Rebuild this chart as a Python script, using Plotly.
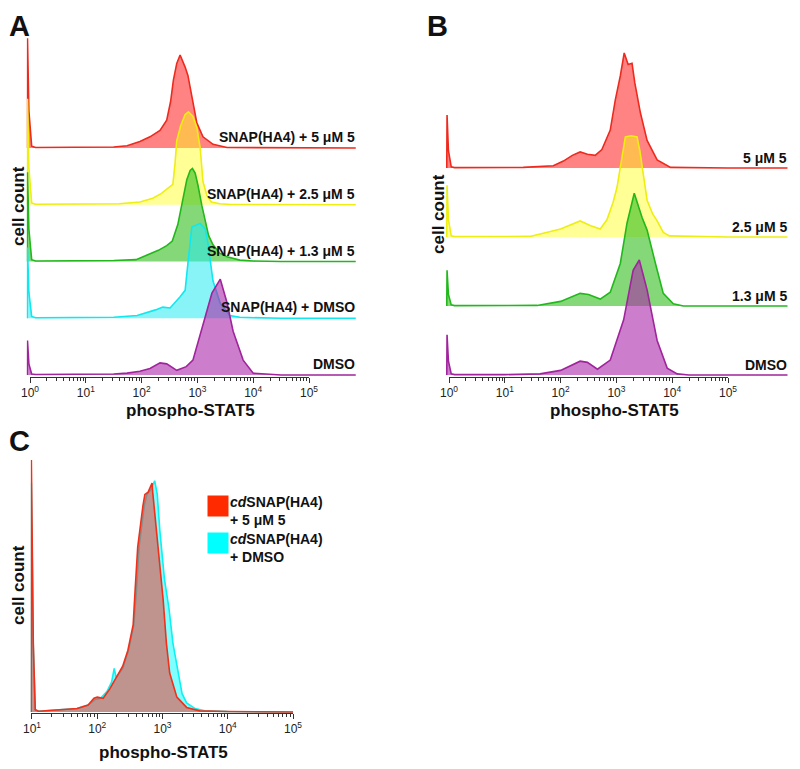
import plotly.graph_objects as go

W, H = 800, 769
SHIFT = 8  # the page body adds 8 px around the figure
FONT = "Liberation Sans, Arial, sans-serif"

# ---------------- data (log10 phospho-STAT5 position, % of peak height) ----------------
# Panel A
A_NAMES = ["SNAP(HA4) + 5 μM 5", "SNAP(HA4) + 2.5 μM 5", "SNAP(HA4) + 1.3 μM 5",
           "SNAP(HA4) + DMSO", "DMSO"]
A_RED_LOG = [-0.05, -0.045, -0.02, 0.03, 0.1, 1.0, 1.5, 1.74, 1.97, 2.15, 2.33, 2.45, 2.52,
             2.57, 2.63, 2.69, 2.73, 2.78, 2.83, 2.90, 2.99, 3.10, 3.28, 3.53, 4.5, 5.84]
A_RED_VAL = [0, 118, 40, 2, 0.5, 0.5, 1, 2.5, 7, 12, 19, 30, 50, 73, 91, 100, 95, 87, 78,
             55, 27, 12, 4, 0.5, 0, 0]
A_YEL_LOG = [-0.05, -0.045, -0.02, 0.03, 0.1, 1.0, 1.6, 1.97, 2.2, 2.35, 2.45, 2.5, 2.56,
             2.6, 2.63, 2.7, 2.78, 2.84, 2.92, 2.99, 3.05, 3.10, 3.17, 3.25, 3.4, 3.6, 4.5, 5.84]
A_YEL_VAL = [0, 114, 40, 2, 0.5, 0.5, 1, 3, 7, 12, 17, 20, 22, 45, 69, 85, 97, 100, 95, 83,
             61, 25, 10, 3, 1, 0.3, 0, 0]
A_GRN_LOG = [-0.05, -0.045, -0.02, 0.03, 0.1, 1.0, 1.5, 1.9, 2.15, 2.3, 2.45, 2.55, 2.65,
             2.74, 2.81, 2.87, 2.91, 2.96, 3.01, 3.08, 3.14, 3.2, 3.28, 3.4, 3.53, 3.76, 4.0,
             4.5, 5.84]
A_GRN_VAL = [0, 96, 35, 2, 0.5, 0.5, 1, 2, 8, 12, 17, 22, 40, 69, 88, 98, 100, 95, 82, 60,
             42, 28, 18, 9, 5, 1.5, 0.5, 0, 0]
A_CYN_LOG = [-0.05, -0.045, -0.02, 0.03, 0.1, 1.0, 1.5, 1.92, 2.09, 2.25, 2.38, 2.51, 2.69,
             2.78, 2.83, 2.90, 3.05, 3.14, 3.19, 3.28, 3.41, 3.58, 3.76, 4.5, 5.84]
A_CYN_VAL = [0, 76, 28, 2, 0.5, 0.5, 1, 3, 6, 9, 12, 11, 23, 30, 59, 98, 102, 96, 80, 40,
             16, 3, 1, 0, 0]
A_PUR_LOG = [-0.05, -0.045, -0.02, 0.03, 0.1, 1.0, 1.5, 1.74, 1.97, 2.15, 2.33, 2.45, 2.63,
             2.8, 2.92, 3.10, 3.26, 3.41, 3.53, 3.64, 3.82, 4.0, 4.5, 5.84]
A_PUR_VAL = [0, 37, 12, 1, 0.5, 0.5, 1, 2, 4, 7, 13, 12, 5, 9, 16, 54, 88, 103, 78, 47, 16,
             2, 0, 0]

# Panel B
B_NAMES = ["5 μM 5", "2.5 μM 5", "1.3 μM 5", "DMSO"]
B_RED_LOG = [-0.04, -0.035, -0.01, 0.04, 0.1, 1.0, 1.33, 1.87, 2.05, 2.21, 2.35, 2.48, 2.62,
             2.74, 2.89, 2.98, 3.07, 3.14, 3.21, 3.28, 3.33, 3.43, 3.55, 3.73, 3.97, 5.0, 6.07]
B_RED_VAL = [0, 46, 15, 1, 0.3, 0.3, 0.5, 2, 6, 11, 14, 12, 11, 16, 33, 59, 80, 100, 90, 91,
             74, 48, 24, 7, 0.5, 0, 0]
B_YEL_LOG = [-0.04, -0.035, -0.01, 0.04, 0.1, 1.0, 1.45, 2.0, 2.2, 2.35, 2.53, 2.71, 2.83,
             2.94, 3.01, 3.12, 3.16, 3.26, 3.37, 3.42, 3.46, 3.55, 3.65, 3.73, 3.84, 3.95,
             5.0, 6.07]
B_YEL_VAL = [0, 45, 15, 1, 0.3, 0.3, 0.5, 7, 11, 14, 10, 7, 15, 30, 43, 76, 87, 88, 87, 75,
             61, 32, 20, 14, 4, 1, 0, 0]
B_GRN_LOG = [-0.04, -0.035, -0.01, 0.04, 0.1, 1.0, 1.58, 2.0, 2.35, 2.5, 2.71, 2.89, 3.07,
             3.19, 3.32, 3.46, 3.55, 3.70, 3.84, 4.02, 4.2, 5.0, 6.07]
B_GRN_VAL = [0, 31, 10, 1, 0.3, 0.3, 0.5, 4, 11, 10, 6, 12, 37, 72, 98, 77, 66, 37, 11, 2,
             0, 0, 0]
B_PUR_LOG = [-0.04, -0.035, -0.01, 0.04, 0.1, 1.0, 1.63, 2.0, 2.35, 2.48, 2.66, 2.89, 3.13,
             3.30, 3.41, 3.55, 3.73, 3.91, 4.09, 4.3, 5.0, 6.07]
B_PUR_VAL = [0, 35, 12, 1, 0.3, 0.3, 1, 4, 12, 11, 5, 13, 48, 91, 100, 74, 30, 6, 1, 0, 0, 0]

# Panel C
C_NAMES = ["<i>cd</i>SNAP(HA4)<br>+ 5 μM 5", "<i>cd</i>SNAP(HA4)<br>+ DMSO"]
C_CYN_LOG = [0.985, 0.99, 1.02, 1.05, 1.1, 1.23, 1.5, 1.69, 1.86, 1.97, 2.05, 2.15, 2.22,
             2.26, 2.29, 2.39, 2.48, 2.56, 2.6, 2.64, 2.72, 2.76, 2.82, 2.88, 2.92, 2.96,
             3.03, 3.10, 3.16, 3.22, 3.3, 3.37, 3.5, 3.65, 4.0, 5.0]
C_CYN_VAL = [0, 100, 28, 1, 0.3, 0.5, 1, 1.5, 3, 5.5, 6, 9, 13, 19, 15, 19, 27, 38, 53, 72,
             90, 95, 97, 101, 95, 79, 58, 45, 30, 20, 8, 4, 1.5, 0.5, 0.2, 0]
C_RED_LOG = [0.985, 0.99, 1.02, 1.05, 1.1, 1.23, 1.5, 1.69, 1.86, 1.95, 2.0, 2.09, 2.19,
             2.27, 2.39, 2.47, 2.55, 2.58, 2.62, 2.70, 2.73, 2.78, 2.84, 2.85, 2.91, 2.98,
             3.01, 3.06, 3.11, 3.22, 3.37, 3.57, 4.0, 5.0]
C_RED_VAL = [0, 110, 30, 1, 0.3, 0.5, 1, 1.5, 3, 6, 6.5, 6, 10, 14, 20, 27, 38, 53, 72, 90,
             95, 96, 100, 96, 79, 58, 49, 30, 17, 6.5, 2, 0.5, 0.2, 0]

TICK_VALS = [1, 10, 100, 1000, 10000, 100000]
TICK_TEXT = ["10<sup>0</sup>", "10<sup>1</sup>", "10<sup>2</sup>", "10<sup>3</sup>",
             "10<sup>4</sup>", "10<sup>5</sup>"]

# ---------------- styles ----------------
RED = ("#ee2a1e", "rgba(255,30,30,0.55)")
YEL = ("#eeee10", "rgba(255,255,20,0.45)")
GRN = ("#22b81c", "rgba(50,190,30,0.6)")
CYN = ("#10e8f0", "rgba(40,235,240,0.55)")
PUR = ("#a0249c", "rgba(170,40,170,0.6)")
C_RED = ("#f0301a", "rgba(255,40,30,0.5)")
C_CYN = ("#10f0f0", "rgba(0,255,255,0.5)")

fig = go.Figure()


def px_x(p):
    return (p - SHIFT) / W


def px_y(p):
    return 1 - (p - SHIFT) / H


def add_curve(logs, vals, offset, style, xa, ya):
    fig.add_trace(go.Scatter(
        x=[10 ** v for v in logs], y=[offset + v for v in vals],
        mode="lines", fill="toself", fillcolor=style[1],
        line=dict(color=style[0], width=1.6), xaxis=xa, yaxis=ya,
        showlegend=False, hoverinfo="skip"))


def y_range(bot_px, top_px, base_px, peak_px):
    r0 = -(bot_px - base_px) / peak_px * 100
    return [r0, r0 + (bot_px - top_px) / peak_px * 100]


minor_vals = [m * 10 ** d for d in range(0, 5) for m in range(2, 10)]

# ---------- Panel A ----------
A_BASE, A_STEP, A_PEAK = 375, 56.75, 93
A_X0, A_DEC = 30, 55.8
A_RANGE = [-0.06, 5.84]
curvesA = [(A_RED_LOG, A_RED_VAL, RED), (A_YEL_LOG, A_YEL_VAL, YEL),
           (A_GRN_LOG, A_GRN_VAL, GRN), (A_CYN_LOG, A_CYN_VAL, CYN),
           (A_PUR_LOG, A_PUR_VAL, PUR)]
nA = len(curvesA)
for i, (lg, vl, st) in enumerate(curvesA):
    k = nA - 1 - i
    add_curve(lg, vl, k * A_STEP / A_PEAK * 100, st, "x", "y")
    fig.add_annotation(text="<b>%s</b>" % A_NAMES[i], xref="paper", yref="paper",
                       x=px_x(357), y=px_y(A_BASE - k * A_STEP - 11),
                       xanchor="right", yanchor="middle", showarrow=False,
                       font=dict(size=14, color="#111", family=FONT))

# ---------- Panel B ----------
B_BASE, B_STEP, B_PEAK = 375, 69, 115
B_X0, B_DEC = 449, 55.8
B_RANGE = [-0.06, 6.07]
curvesB = [(B_RED_LOG, B_RED_VAL, RED), (B_YEL_LOG, B_YEL_VAL, YEL),
           (B_GRN_LOG, B_GRN_VAL, GRN), (B_PUR_LOG, B_PUR_VAL, PUR)]
nB = len(curvesB)
for i, (lg, vl, st) in enumerate(curvesB):
    k = nB - 1 - i
    add_curve(lg, vl, k * B_STEP / B_PEAK * 100, st, "x2", "y2")
    fig.add_annotation(text="<b>%s</b>" % B_NAMES[i], xref="paper", yref="paper",
                       x=px_x(789), y=px_y(B_BASE - k * B_STEP - 10),
                       xanchor="right", yanchor="middle", showarrow=False,
                       font=dict(size=14, color="#111", family=FONT))

# ---------- Panel C ----------
C_BASE, C_PEAK = 712, 229
C_X0, C_DEC = 32, 65.25
C_RANGE = [0.98, 5.0]
add_curve(C_CYN_LOG, C_CYN_VAL, 0, C_CYN, "x3", "y3")
add_curve(C_RED_LOG, C_RED_VAL, 0, C_RED, "x3", "y3")

# empty traces to register tick-only subplots
fig.add_trace(go.Scatter(x=[], y=[], xaxis="x4", yaxis="y4", showlegend=False))
fig.add_trace(go.Scatter(x=[], y=[], xaxis="x5", yaxis="y5", showlegend=False))


def dom(x0, dec, rng):
    return [px_x(x0 + rng[0] * dec), px_x(x0 + rng[1] * dec)]


tick_style = dict(type="log", showline=True, linecolor="#333", linewidth=1,
                  ticks="outside", ticklen=5, tickcolor="#333", tickwidth=1,
                  tickmode="array", tickvals=TICK_VALS, ticktext=TICK_TEXT,
                  tickfont=dict(size=12, color="#222", family=FONT),
                  showgrid=False, zeroline=False, fixedrange=True, automargin=False,
                  minor=dict(ticks="outside", ticklen=3, tickcolor="#333",
                             tickmode="array", tickvals=minor_vals, showgrid=False))
hidden = dict(visible=False, fixedrange=True, automargin=False)

fig.update_layout(
    width=W, height=H, margin=dict(l=0, r=0, t=0, b=0, autoexpand=False),
    paper_bgcolor="white", plot_bgcolor="rgba(0,0,0,0)",
    xaxis=dict(type="log", range=A_RANGE, domain=dom(A_X0, A_DEC, A_RANGE),
               anchor="y", **hidden),
    yaxis=dict(range=y_range(377, 30, A_BASE, A_PEAK), domain=[px_y(377), px_y(30)],
               anchor="x", **hidden),
    xaxis2=dict(type="log", range=B_RANGE, domain=dom(B_X0, B_DEC, B_RANGE),
                anchor="y2", **hidden),
    yaxis2=dict(range=y_range(377, 40, B_BASE, B_PEAK), domain=[px_y(377), px_y(40)],
                anchor="x2", **hidden),
    xaxis3=dict(range=C_RANGE, domain=dom(C_X0, C_DEC, [C_RANGE[0] - 1, C_RANGE[1] - 1]),
                anchor="y3", **tick_style),
    yaxis3=dict(range=y_range(713, 450, C_BASE, C_PEAK), domain=[px_y(713), px_y(450)],
                anchor="x3", **hidden),
    xaxis4=dict(range=[0, 5], domain=dom(A_X0, A_DEC, [0, 5]), anchor="y4", **tick_style),
    yaxis4=dict(range=[0, 1], domain=[px_y(377), px_y(360)], anchor="x4", **hidden),
    xaxis5=dict(range=[0, 5], domain=dom(B_X0, B_DEC, [0, 5]), anchor="y5", **tick_style),
    yaxis5=dict(range=[0, 1], domain=[px_y(377), px_y(360)], anchor="x5", **hidden),
)
fig.update_layout(xaxis3=dict(minor=dict(tickvals=[m * 10 ** d for d in range(1, 5)
                                                   for m in range(2, 10)])))

# axis titles
for (cx, cy, txt, ang, size) in [
        (190, 410, "phospho-STAT5", 0, 17), (614, 410, "phospho-STAT5", 0, 17),
        (163, 752, "phospho-STAT5", 0, 17),
        (18, 206, "cell count", -90, 17), (438, 214, "cell count", -90, 17),
        (18, 585, "cell count", -90, 17)]:
    fig.add_annotation(text="<b>%s</b>" % txt, xref="paper", yref="paper",
                       x=px_x(cx), y=px_y(cy), xanchor="center", yanchor="middle",
                       textangle=ang, showarrow=False,
                       font=dict(size=size, color="#111", family=FONT))

# panel letters (top-anchored so they stay inside the figure)
for (cx, ty, letter) in [(19, 8.5, "A"), (437, 9, "B"), (19, 424, "C")]:
    fig.add_annotation(text="<b>%s</b>" % letter, xref="paper", yref="paper",
                       x=px_x(cx), y=px_y(ty), xanchor="center", yanchor="top",
                       showarrow=False, borderpad=0,
                       font=dict(size=29, color="#111", family=FONT))

# legend for panel C
for i, (name, col) in enumerate(zip(C_NAMES, ["#ff2a00", "#00ffff"])):
    top = 495 + i * 37
    fig.add_annotation(text=" ", xref="paper", yref="paper", x=px_x(207), y=px_y(top),
                       xanchor="left", yanchor="top", width=20, height=20,
                       bgcolor=col, borderpad=0, showarrow=False, font=dict(size=10))
    fig.add_annotation(text="<b>%s</b>" % name, xref="paper", yref="paper",
                       x=px_x(228), y=px_y(top - 3), xanchor="left", yanchor="top",
                       align="left", showarrow=False,
                       font=dict(size=14, color="#111", family=FONT))

fig.write_html("out.html")
